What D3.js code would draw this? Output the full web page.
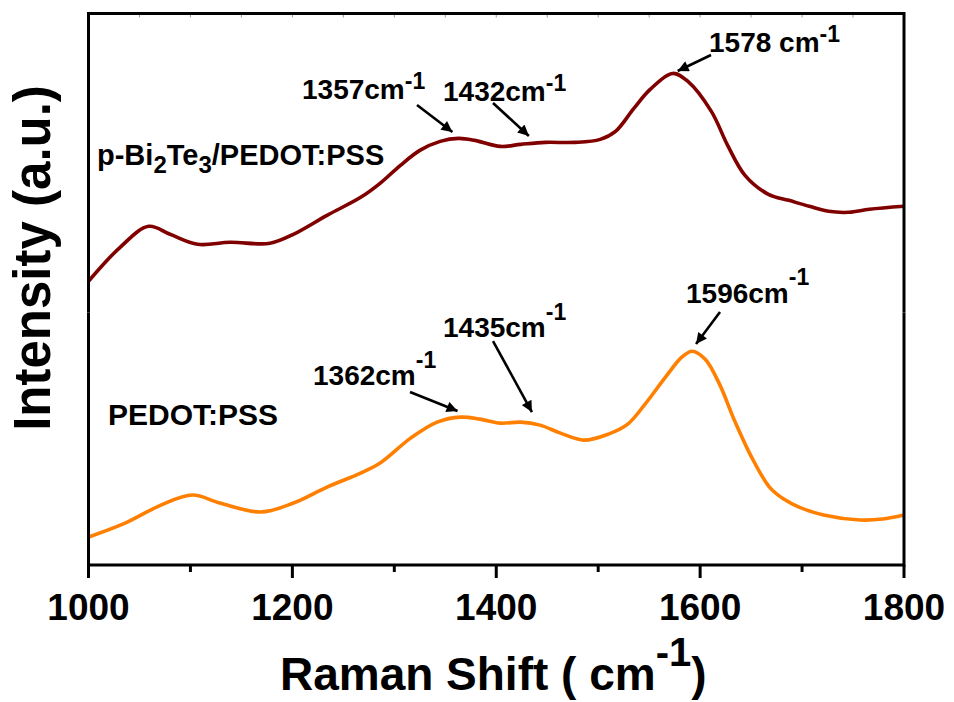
<!DOCTYPE html>
<html>
<head>
<meta charset="utf-8">
<script src="https://cdn.jsdelivr.net/npm/d3@7/dist/d3.min.js"></script>
<style>
  html, body { margin: 0; padding: 0; background: #fff; }
  svg { display: block; }
  text { font-family: "Liberation Sans", Arial, Helvetica, sans-serif; font-weight: bold; fill: #000; }
</style>
</head>
<body>
<svg id="chart" width="954" height="702"></svg>
<script>
// Raman spectra (intensity in arbitrary units, stacked for display)
const wavenumberComposite = [1000, 1031, 1059, 1080, 1107, 1139, 1178, 1201, 1234, 1267, 1286, 1306, 1325, 1345, 1363, 1379, 1404, 1424, 1448, 1477, 1502, 1517, 1535, 1551, 1573, 1588, 1611, 1627, 1644, 1667, 1687, 1707, 1726, 1746, 1766, 1800];
const intensityComposite  = [284, 318, 339, 331, 321, 323, 322, 331, 350, 368, 382, 400, 415, 424, 427, 425, 419, 421, 423, 423, 426, 434, 457, 476, 492, 484, 454, 420, 390, 371, 365, 359, 354, 353, 356, 359];

const wavenumberPedot = [1000, 1038, 1071, 1102, 1129, 1169, 1201, 1234, 1267, 1286, 1316, 1342, 1365, 1384, 1404, 1424, 1443, 1463, 1486, 1510, 1529, 1546, 1566, 1582, 1592, 1605, 1619, 1634, 1651, 1668, 1682, 1697, 1721, 1757, 1779, 1800];
const intensityPedot  = [28, 43, 60, 70, 62, 53, 62, 78, 92, 102, 127, 143, 148, 146, 142, 143, 140, 132, 125, 131, 141, 161, 188, 208, 214, 206, 181, 144, 107, 78, 66, 58, 50, 45, 46, 50];

const peaksComposite = [1357, 1432, 1578];
const peaksPedot = [1362, 1435, 1596];

const xTickValues = [1000, 1200, 1400, 1600, 1800];
const xMinorValues = [1100, 1300, 1500, 1700];
const topTickValues = d3.range(1050, 1800, 50);

const svg = d3.select("#chart");
const plotLeft = 88.5, plotRight = 904, plotTop = 13.5, plotBottom = 565;

const x = d3.scaleLinear().domain([1000, 1800]).range([plotLeft, plotRight]);
const y = d3.scaleLinear().domain([0, 552]).range([plotBottom, plotTop]);

// spectra
const line = d3.line().x(d => x(d[0])).y(d => y(d[1])).curve(d3.curveCatmullRom.alpha(0.5));
const drawSpectrum = (wn, inten, color) => {
  svg.append("path")
    .datum(d3.zip(wn, inten))
    .attr("d", line)
    .attr("fill", "none")
    .attr("stroke", color)
    .attr("stroke-width", 3.6)
    .attr("stroke-linejoin", "round");
};
drawSpectrum(wavenumberComposite, intensityComposite, "#800000");
drawSpectrum(wavenumberPedot, intensityPedot, "#ff8000");

// frame with a small break between the two stacked spectra
const breakY = 312.5, breakGap = 1.6;
const frame = svg.append("g").attr("stroke", "#000").attr("stroke-width", 3).attr("fill", "none");
frame.append("path").attr("d", `M${plotLeft},${breakY - breakGap}V${plotTop}H${plotRight}V${breakY - breakGap}`).attr("stroke-linecap", "square");
frame.append("path").attr("d", `M${plotLeft},${breakY + breakGap}V${plotBottom}H${plotRight}V${breakY + breakGap}`).attr("stroke-linecap", "square");

// bottom axis ticks
const xAxis = svg.append("g");
xAxis.selectAll("line.major").data(xTickValues).join("line")
  .attr("class", "major")
  .attr("x1", d => x(d)).attr("x2", d => x(d))
  .attr("y1", plotBottom).attr("y2", plotBottom + 13)
  .attr("stroke", "#000").attr("stroke-width", 3);
xAxis.selectAll("line.minor").data(xMinorValues).join("line")
  .attr("class", "minor")
  .attr("x1", d => x(d)).attr("x2", d => x(d))
  .attr("y1", plotBottom).attr("y2", plotBottom + 7)
  .attr("stroke", "#000").attr("stroke-width", 3);
xAxis.selectAll("text").data(xTickValues).join("text")
  .attr("x", d => x(d)).attr("y", 620)
  .attr("text-anchor", "middle")
  .attr("font-size", 37)
  .text(d => d);

// faint ticks along the top edge
svg.append("g").selectAll("line").data(topTickValues).join("line")
  .attr("x1", d => x(d)).attr("x2", d => x(d))
  .attr("y1", plotTop + 1.5).attr("y2", plotTop + 4)
  .attr("stroke", "#999").attr("stroke-width", 1);

// axis titles
const xTitle = svg.append("text")
  .attr("x", (plotLeft + plotRight) / 2 - 3).attr("y", 690)
  .attr("text-anchor", "middle").attr("font-size", 46);
xTitle.append("tspan").text("Raman Shift ( cm");
xTitle.append("tspan").attr("font-size", 40).attr("dy", -24).text("-1");
xTitle.append("tspan").attr("dy", 24).text(")");

svg.append("text")
  .attr("transform", "translate(50,258) rotate(-90)")
  .attr("text-anchor", "middle").attr("font-size", 51)
  .text("Intensity (a.u.)");

// series labels
const lab1 = svg.append("text").attr("x", 97).attr("y", 165).attr("font-size", 29);
lab1.append("tspan").text("p-Bi");
lab1.append("tspan").attr("font-size", 24).attr("dy", 8).text("2");
lab1.append("tspan").attr("dy", -8).text("Te");
lab1.append("tspan").attr("font-size", 24).attr("dy", 8).text("3");
lab1.append("tspan").attr("dy", -8).text("/PEDOT:PSS");

svg.append("text").attr("x", 108).attr("y", 425).attr("font-size", 30).text("PEDOT:PSS");

// peak annotations with arrows
svg.append("defs").append("marker")
  .attr("id", "head").attr("viewBox", "0 0 10 10")
  .attr("refX", 10).attr("refY", 5)
  .attr("markerWidth", 5.2).attr("markerHeight", 4.2)
  .attr("markerUnits", "strokeWidth")
  .attr("orient", "auto")
  .append("path").attr("d", "M0,0L10,5L0,10Z").attr("fill", "#000");

const annotationLayout = [
  // text start, text baseline, unit text, superscript raise, arrow tail, arrow tip y
  { peak: peaksComposite[0], tx: 302, ty: 99,  unit: "cm",  rise: 10, ax: 417, ay: 105, tipY: 132 },
  { peak: peaksComposite[1], tx: 443, ty: 101, unit: "cm",  rise: 10, ax: 493, ay: 103, tipY: 136 },
  { peak: peaksComposite[2], tx: 709, ty: 52,  unit: " cm", rise: 10, ax: 711, ay: 55,  tipY: 71 },
  { peak: peaksPedot[0],     tx: 313, ty: 385, unit: "cm",  rise: 17, ax: 410, ay: 392, tipY: 411 },
  { peak: peaksPedot[1],     tx: 443, ty: 337, unit: "cm",  rise: 17, ax: 493, ay: 341, tipY: 412 },
  { peak: peaksPedot[2],     tx: 686, ty: 303, unit: "cm",  rise: 18, ax: 720, ay: 312, tipY: 344 }
];

const ann = svg.append("g");
annotationLayout.forEach(a => {
  const t = ann.append("text").attr("x", a.tx).attr("y", a.ty).attr("font-size", 28);
  t.append("tspan").text(a.peak + a.unit);
  t.append("tspan").attr("font-size", 23).attr("dy", -a.rise).text("-1");
  ann.append("line")
    .attr("x1", a.ax).attr("y1", a.ay)
    .attr("x2", x(a.peak)).attr("y2", a.tipY)
    .attr("stroke", "#000").attr("stroke-width", 2.6)
    .attr("marker-end", "url(#head)");
});
</script>
</body>
</html>
